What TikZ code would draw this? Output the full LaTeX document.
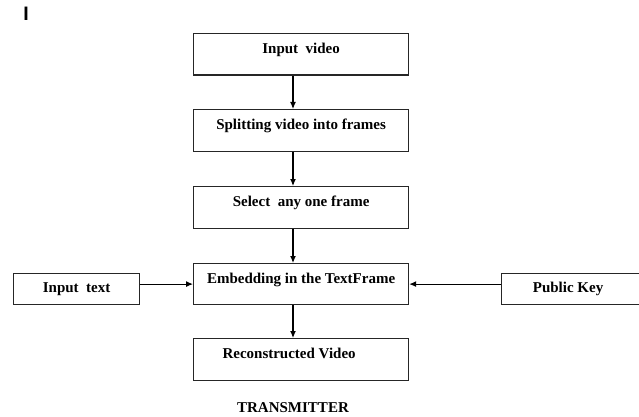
\documentclass[tikz,border=0pt]{standalone}
\usepackage{fontspec}
\setmainfont{Liberation Serif}
\newfontfamily\marksans{Liberation Sans}
\usetikzlibrary{arrows.meta}
\tikzset{
  box/.style={draw=black!85, line width=1.2pt, inner sep=0pt, anchor=north west,
    font=\fontsize{15}{17}\selectfont\bfseries, minimum width=215pt,
    text height=19.5pt, text depth=22pt},
  sidebox/.style={box, text height=19pt, text depth=12pt},
  arr/.style={draw=black, line width=1.1pt, -{Latex[length=7pt,width=6pt]}},
  caption/.style={font=\fontsize{15}{17}\selectfont\bfseries, inner sep=0pt}
}
\begin{document}
\begin{tikzpicture}[x=1pt,y=-1pt]
\useasboundingbox (0,0) rectangle (639,417);
\node[font=\marksans\bfseries\fontsize{19.5}{20}\selectfont, inner sep=0pt, anchor=north] (mark) at (26,7) {I};
\node[box] (iv) at (193,33) {Input\ \ video};
\node[box] (sp) at (193,109) {Splitting video into frames};
\node[box] (sel) at (193,186) {Select\ \ any one frame};
\node[box, text depth=21.5pt] (emb) at (193,263) {Embedding in the TextFrame};
\node[box] (rec) at (193,338) {Reconstructed Video\hspace*{24pt}};
\node[sidebox, minimum width=126pt] (it) at (13,273) {Input\ \ text};
\node[sidebox, minimum width=140pt] (pk) at (501,273) {Public Key\hspace*{7pt}};
\node[caption] (tx) at (293,408) {TRANSMITTER};
\draw[arr] ([xshift=100pt]iv.south west) -- ([xshift=100pt]sp.north west);
\draw[arr] ([xshift=100pt]sp.south west) -- ([xshift=100pt]sel.north west);
\draw[arr] ([xshift=100pt]sel.south west) -- ([xshift=100pt]emb.north west);
\draw[arr] ([xshift=100pt]emb.south west) -- ([xshift=100pt]rec.north west);
\draw[arr] (it.east |- emb.west) -- (emb.west);
\draw[arr] (pk.west |- emb.east) -- (emb.east);
\end{tikzpicture}
\end{document}
